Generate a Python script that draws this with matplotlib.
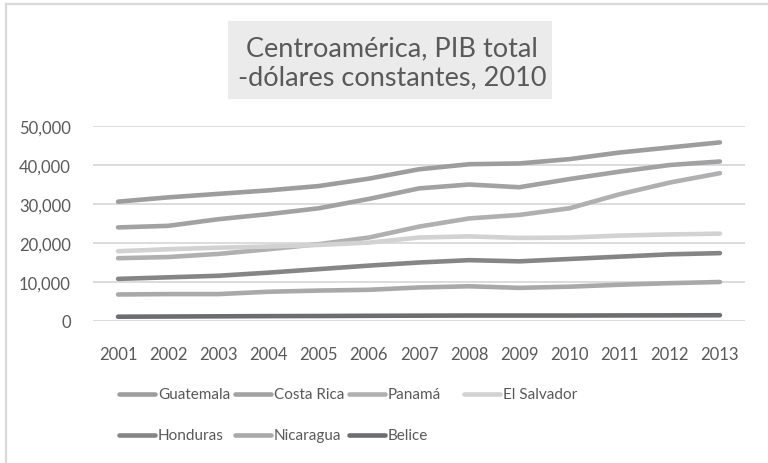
import matplotlib.pyplot as plt
from matplotlib.lines import Line2D
from matplotlib.patches import Rectangle
from matplotlib.ticker import FuncFormatter

plt.rcParams['font.family'] = ['Lato', 'DejaVu Sans']

# datos (millones de dólares constantes de 2010)
years = ['2001', '2002', '2003', '2004', '2005', '2006', '2007',
         '2008', '2009', '2010', '2011', '2012', '2013']

guatemala = [30600, 31700, 32600, 33500, 34600, 36500, 38900, 40200, 40400, 41500, 43200, 44500, 45800]
costa_rica = [24000, 24400, 26100, 27400, 28900, 31300, 34000, 35000, 34300, 36400, 38300, 40000, 40900]
panama = [16100, 16400, 17200, 18400, 19700, 21400, 24200, 26300, 27200, 28900, 32500, 35500, 37900]
el_salvador = [17900, 18400, 18800, 19100, 19500, 20100, 21400, 21700, 21300, 21400, 21900, 22200, 22400]
honduras = [10800, 11200, 11600, 12400, 13300, 14200, 15000, 15600, 15300, 15900, 16500, 17100, 17400]
nicaragua = [6800, 6900, 6900, 7500, 7800, 8000, 8600, 8900, 8500, 8800, 9300, 9700, 10000]
belice = [1100, 1150, 1200, 1250, 1280, 1330, 1370, 1400, 1400, 1400, 1430, 1450, 1480]

series = [('Guatemala', guatemala, '#9d9da0'),
          ('Costa Rica', costa_rica, '#a2a2a5'),
          ('Panamá', panama, '#b0b0b3'),
          ('El Salvador', el_salvador, '#d2d2d3'),
          ('Honduras', honduras, '#858588'),
          ('Nicaragua', nicaragua, '#a9a9ac'),
          ('Belice', belice, '#6d6d71')]

W, H = 768, 464
fig = plt.figure(figsize=(W / 100, H / 100), dpi=100)

# marco del gráfico
fig.add_artist(Line2D([6 / W, 1.02], [1 - 5 / H, 1 - 5 / H], color='#d9d9d9', lw=1.6))
fig.add_artist(Line2D([6 / W, 6 / W], [-0.02, 1 - 5 / H], color='#d9d9d9', lw=1.6))

ax = fig.add_axes([93 / W, 142 / H, 652 / W, 195 / H])
x = list(range(len(years)))
for name, vals, col in series:
    ax.plot(x, vals, color=col, lw=3.3, solid_capstyle='round')

ax.set_xlim(-0.5, 12.5)
ax.set_ylim(0, 50000)
ax.set_yticks(range(0, 50001, 10000))
ax.yaxis.set_major_formatter(FuncFormatter(lambda v, p: f'{int(v):,}'))
ax.set_xticks(x)
ax.set_xticklabels(years)
ax.grid(axis='y', color='#d9d9d9', lw=1.3)
ax.set_axisbelow(True)
for s in ax.spines.values():
    s.set_visible(False)
ax.tick_params(length=0, labelsize=12, colors='#595959')
ax.tick_params(axis='y', pad=16)
ax.tick_params(axis='x', pad=18)

# título con fondo gris
fig.add_artist(Rectangle((228 / W, 1 - 100 / H), 324 / W, 78 / H,
                         facecolor='#ebebeb', edgecolor='none'))
fig.text(392 / W, 1 - 63 / H, 'Centroamérica, PIB total\n-dólares constantes, 2010',
         ha='center', va='center', fontsize=19.5, color='#595959', linespacing=1.2)

# leyenda
cols = [119, 235, 349, 464]
rows = [395, 436]
for i, (name, vals, col) in enumerate(series):
    cx = cols[i % 4]
    cy = 1 - rows[i // 4] / H
    fig.add_artist(Line2D([cx / W, (cx + 36) / W], [cy, cy], color=col, lw=3.3,
                          solid_capstyle='round'))
    fig.text((cx + 39) / W, cy, name, ha='left', va='center', fontsize=11, color='#595959')

fig.savefig('out.png', dpi=100)
